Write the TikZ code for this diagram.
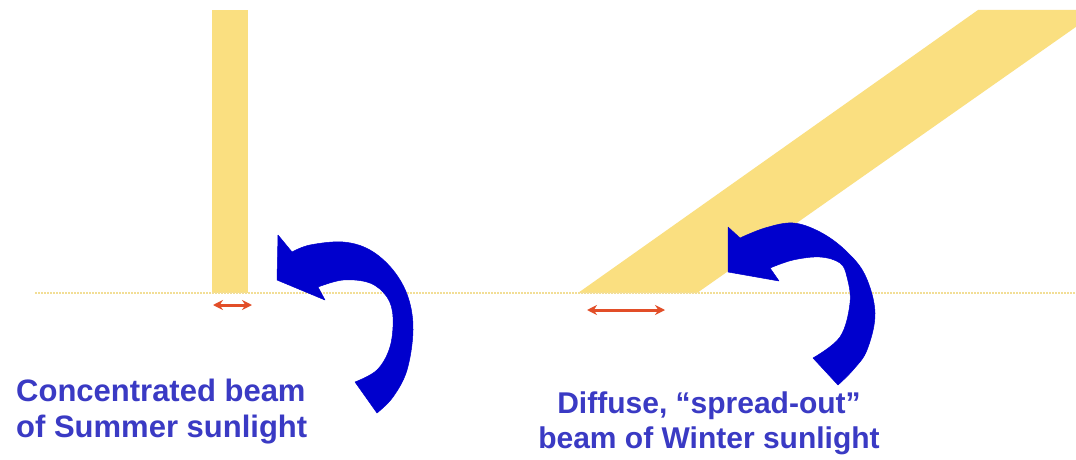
\documentclass[tikz,border=0pt]{standalone}
\usepackage{fontspec}
\setmainfont{Liberation Sans}
\usetikzlibrary{arrows.meta}
\definecolor{beam}{RGB}{250,223,128}
\definecolor{ground}{RGB}{242,222,150}
\definecolor{redarr}{RGB}{226,78,40}
\definecolor{bluearr}{RGB}{0,0,205}
\definecolor{txt}{RGB}{58,58,196}
\tikzset{
  beamfill/.style={fill=beam, draw=none},
  groundline/.style={draw=ground, line width=1.6pt, dash pattern=on 2pt off 1pt},
  widtharrow/.style={draw=redarr, line width=3pt, {Stealth[length=10pt,width=10pt]}-{Stealth[length=10pt,width=10pt]}},
  curvearrow/.style={fill=bluearr, draw=bluearr, line width=0.5pt, line join=round},
  caption/.style={text=txt, align=center, inner sep=0pt}
}
\begin{document}
\begin{tikzpicture}[x=1pt, y=-1pt]
\useasboundingbox[fill=white] (0,0) rectangle (1076,460);
% beams
\fill[beamfill] (212,10) rectangle (248,293);
\begin{scope}
\clip (0,0) rectangle (1076,460);
\fill[beamfill] (578,293) -- (978,10) -- (1100,10) -- (697,293) -- cycle;
\end{scope}
% ground
\coordinate (g1) at (35,293);
\coordinate (g2) at (1076,293);
\draw[groundline] (g1) -- (g2);
% width arrows
\coordinate (sa) at (213,305);
\coordinate (sb) at (252,305);
\draw[widtharrow] (sa) -- (sb);
\coordinate (wa) at (587,310);
\coordinate (wb) at (665,310);
\draw[widtharrow] (wa) -- (wb);
% summer curved arrow
\filldraw[curvearrow] (278,235) -- (277,280) -- (325,300) -- (318,287)
  -- plot[smooth, tension=0.6] coordinates {(318,287) (343,280) (370,283) (387,297) (393,317) (390,347) (377,370) (355,382)}
  -- (377,413)
  -- plot[smooth, tension=0.6] coordinates {(377,413) (393,397) (407,370) (413,330) (408,297) (393,270) (370,250) (343,242) (310,245) (292,252)}
  -- cycle;
% winter curved arrow
\filldraw[curvearrow] (728,227) -- (728,272) -- (779,281) -- (770,268)
  -- plot[smooth, tension=0.6] coordinates {(770,268) (793,260) (820,257) (840,263) (847,277) (850,303) (840,337) (813,358)}
  -- (838,385)
  -- plot[smooth, tension=0.6] coordinates {(838,385) (853,370) (867,350) (875,313) (865,275) (845,250) (820,232) (793,223) (765,228) (740,238)}
  -- cycle;
% captions
\node[caption, font=\bfseries\fontsize{31}{36}\selectfont, anchor=base west, align=left] (cs) at (16,437) {Concentrated beam\\of Summer sunlight};
\node[caption, font=\bfseries\fontsize{30}{35}\selectfont, anchor=base] (cw) at (709,448) {Diffuse, “spread-out”\\beam of Winter sunlight};
\end{tikzpicture}
\end{document}
